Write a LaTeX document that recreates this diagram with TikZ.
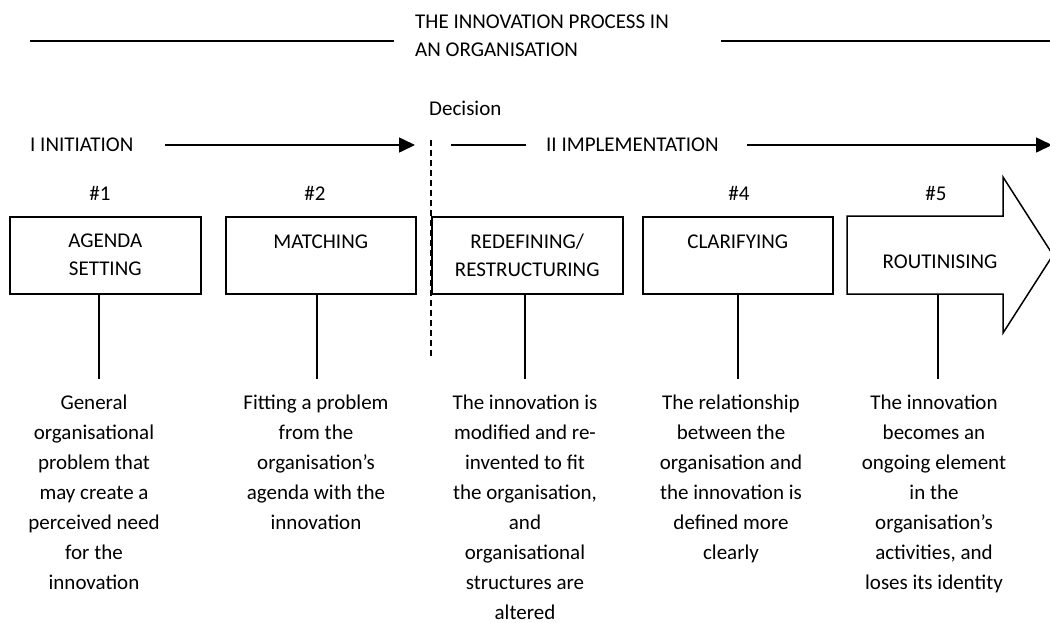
\documentclass[tikz,border=0pt]{standalone}
\usepackage{fontspec}
\setmainfont{Carlito}
\usetikzlibrary{arrows.meta}
\begin{document}
\begin{tikzpicture}[x=1pt,y=-1pt,
  every node/.style={inner sep=0pt},
  lbl/.style={font=\fontsize{21}{28}\selectfont},
  rule/.style={line width=1.6pt},
  arr/.style={line width=1.6pt,-{Triangle[length=16pt,width=15pt]}},
  stagebox/.style={draw,line width=1.5pt,minimum height=77pt,align=center,
    font=\fontsize{21}{28}\selectfont,anchor=north west},
  desc/.style={align=center,font=\fontsize{21}{30}\selectfont,anchor=north,inner ysep=16pt},
  stem/.style={line width=1.5pt},
  decline/.style={line width=1.3pt,dash pattern=on 6pt off 4pt},
]
\useasboundingbox (0,0) rectangle (1050,622);
% title
\node[lbl,anchor=west] (t1) at (415,22) {THE INNOVATION PROCESS IN};
\node[lbl,anchor=west] (t2) at (415,50) {AN ORGANISATION};
\coordinate (tl1) at (30,41); \coordinate (tl2) at (394,41);
\coordinate (tr1) at (721,41); \coordinate (tr2) at (1050,41);
\draw[rule] (tl1) -- (tl2);
\draw[rule] (tr1) -- (tr2);
% phases
\node[lbl,anchor=west] (dec) at (429,108) {Decision};
\node[lbl,anchor=west] (init) at (30,145) {I INITIATION};
\node[lbl,anchor=west] (impl) at (546,145) {II IMPLEMENTATION};
\coordinate (a1s) at (165,145); \coordinate (a1e) at (415,145);
\draw[arr] (a1s) -- (a1e);
\coordinate (l2s) at (451,145); \coordinate (l2e) at (526,145);
\draw[rule] (l2s) -- (l2e);
\coordinate (a2s) at (747,145); \coordinate (a2e) at (1052,145);
\draw[arr] (a2s) -- (a2e);
\coordinate (dtop) at (431,140); \coordinate (dbot) at (431,357);
\draw[decline] (dtop) -- (dbot);
% numbers
\node[lbl] (n1) at (100,193) {\#1};
\node[lbl] (n2) at (315,193) {\#2};
\node[lbl] (n4) at (739,193) {\#4};
\node[lbl] (n5) at (936,193) {\#5};
% boxes
\node[stagebox,minimum width=191pt] (b1) at (9,216) {AGENDA\\SETTING};
\node[stagebox,minimum width=190pt] (b2) at (225,216) {MATCHING\\~};
\node[stagebox,minimum width=191pt] (b3) at (431,216) {REDEFINING/\\RESTRUCTURING};
\node[stagebox,minimum width=190pt] (b4) at (642,216) {CLARIFYING\\~};
\draw[line width=1.5pt,line join=miter] (847,216) -- (1003,216) -- (1003,177) -- (1053,255)
  -- (1003,333) -- (1003,294) -- (847,294) -- cycle;
\node[lbl] (r5) at (940,262) {ROUTINISING};
\coordinate (a5) at (938,294);
% descriptions
\node[desc] (d1) at (94,379) {General\\organisational\\problem that\\may create a\\perceived need\\for the\\innovation};
\node[desc] (d2) at (316,379) {Fitting a problem\\from the\\organisation’s\\agenda with the\\innovation};
\node[desc] (d3) at (525,379) {The innovation is\\modified and re-\\invented to fit\\the organisation,\\and\\organisational\\structures are\\altered};
\node[desc] (d4) at (731,379) {The relationship\\between the\\organisation and\\the innovation is\\defined more\\clearly};
\node[desc] (d5) at (934,379) {The innovation\\becomes an\\ongoing element\\in the\\organisation’s\\activities, and\\loses its identity};
% stems
\draw[stem] ([xshift=5pt]d1.north |- b1.south) -- ([xshift=5pt]d1.north);
\draw[stem] ([xshift=1pt]d2.north |- b2.south) -- ([xshift=1pt]d2.north);
\draw[stem] (d3.north |- b3.south) -- (d3.north);
\draw[stem] ([xshift=7pt]d4.north |- b4.south) -- ([xshift=7pt]d4.north);
\draw[stem] (a5) -- (d5.north -| a5);
\end{tikzpicture}
\end{document}
